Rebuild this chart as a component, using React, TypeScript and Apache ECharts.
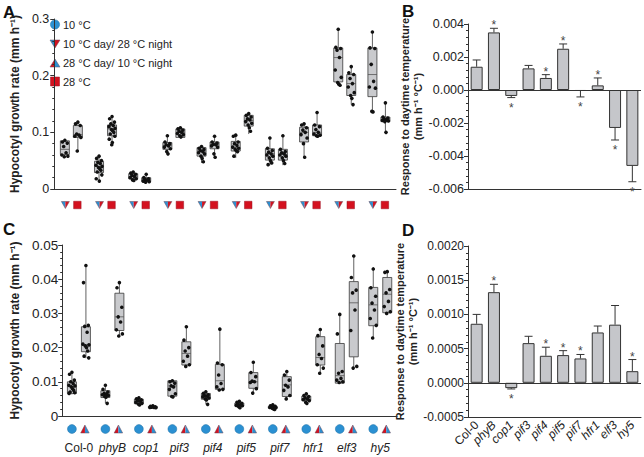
import React, { useEffect, useRef } from "react";
import * as echarts from "echarts";

const genotypes = ["Col-0", "phyB", "cop1", "pif3", "pif4", "pif5", "pif7", "hfr1", "elf3", "hy5"];

// Panel A – box statistics [min, q1, median, q3, max]
const boxA_dayCold = [
  [0.057, 0.061, 0.07, 0.085, 0.086],
  [0.014, 0.029, 0.04, 0.049, 0.058],
  [0.014, 0.018, 0.022, 0.027, 0.03],
  [0.061, 0.07, 0.077, 0.082, 0.094],
  [0.046, 0.058, 0.067, 0.073, 0.076],
  [0.055, 0.067, 0.073, 0.084, 0.095],
  [0.042, 0.051, 0.0625, 0.071, 0.091],
  [0.055, 0.083, 0.1, 0.109, 0.115],
  [0.183, 0.189, 0.232, 0.249, 0.282],
  [0.136, 0.163, 0.202, 0.249, 0.277],
];
const boxA_warm = [
  [0.067, 0.091, 0.096, 0.112, 0.119],
  [0.076, 0.094, 0.106, 0.113, 0.13],
  [0.011, 0.013, 0.017, 0.02, 0.027],
  [0.089, 0.091, 0.1, 0.106, 0.109],
  [0.055, 0.071, 0.079, 0.083, 0.094],
  [0.097, 0.111, 0.121, 0.13, 0.134],
  [0.042, 0.051, 0.061, 0.07, 0.095],
  [0.093, 0.094, 0.1, 0.113, 0.136],
  [0.149, 0.165, 0.186, 0.202, 0.217],
  [0.099, 0.119, 0.123, 0.127, 0.152],
];
const ptsA_dayCold = [
  [0.086, 0.083, 0.081, 0.075, 0.064, 0.06, 0.058, 0.057],
  [0.058, 0.054, 0.05, 0.047, 0.045, 0.042, 0.04, 0.038, 0.036, 0.033, 0.03, 0.025, 0.018, 0.014],
  [0.03, 0.028, 0.026, 0.024, 0.022, 0.02, 0.018, 0.016, 0.015],
  [0.094, 0.083, 0.08, 0.078, 0.076, 0.074, 0.071, 0.066, 0.062],
  [0.075, 0.072, 0.07, 0.068, 0.066, 0.064, 0.062, 0.058, 0.054, 0.048],
  [0.095, 0.093, 0.083, 0.08, 0.077, 0.074, 0.072, 0.07, 0.068, 0.066, 0.058],
  [0.09, 0.072, 0.068, 0.065, 0.062, 0.06, 0.058, 0.055, 0.05, 0.046, 0.043],
  [0.115, 0.113, 0.108, 0.104, 0.1, 0.096, 0.09, 0.08, 0.056],
  [0.282, 0.25, 0.248, 0.245, 0.232, 0.21, 0.197, 0.188, 0.185, 0.183],
  [0.277, 0.249, 0.248, 0.22, 0.19, 0.18, 0.178, 0.137, 0.136],
];
const ptsA_warm = [
  [0.118, 0.115, 0.112, 0.097, 0.095, 0.093, 0.091, 0.067],
  [0.128, 0.124, 0.118, 0.115, 0.112, 0.11, 0.107, 0.105, 0.103, 0.1, 0.097, 0.093, 0.088, 0.082, 0.078],
  [0.026, 0.02, 0.018, 0.017, 0.016, 0.014, 0.013, 0.012],
  [0.108, 0.106, 0.104, 0.102, 0.1, 0.098, 0.096, 0.094, 0.092],
  [0.093, 0.083, 0.081, 0.079, 0.078, 0.076, 0.074, 0.062, 0.056],
  [0.133, 0.13, 0.127, 0.124, 0.122, 0.119, 0.116, 0.113, 0.108, 0.102],
  [0.094, 0.07, 0.066, 0.064, 0.062, 0.06, 0.058, 0.055, 0.05, 0.045],
  [0.135, 0.113, 0.11, 0.105, 0.1, 0.097, 0.095, 0.094, 0.093],
  [0.216, 0.205, 0.202, 0.195, 0.186, 0.18, 0.17, 0.165, 0.16, 0.149],
  [0.152, 0.127, 0.125, 0.124, 0.122, 0.121, 0.12, 0.119, 0.1],
];

// Panel C – box statistics [min, q1, median, q3, max]
const boxC_cold = [
  [0.0063, 0.0066, 0.0086, 0.01, 0.013],
  [0.0037, 0.0054, 0.0064, 0.0074, 0.0091],
  [0.0032, 0.0036, 0.0043, 0.0049, 0.0053],
  [0.0056, 0.0058, 0.0088, 0.0103, 0.0103],
  [0.0034, 0.0049, 0.0059, 0.0066, 0.0071],
  [0.0024, 0.0029, 0.0033, 0.0038, 0.0043],
  [0.0019, 0.0023, 0.0025, 0.0028, 0.0033],
  [0.0037, 0.0045, 0.005, 0.0058, 0.0065],
  [0.0094, 0.0096, 0.0118, 0.0212, 0.0297],
  [0.0227, 0.0264, 0.0325, 0.0376, 0.043],
];
const boxC_warmDay = [
  [0.0169, 0.0188, 0.0208, 0.0261, 0.044],
  [0.0234, 0.025, 0.029, 0.0359, 0.039],
  [0.0023, 0.0024, 0.0026, 0.0028, 0.003],
  [0.0144, 0.0149, 0.0183, 0.0217, 0.0261],
  [0.0074, 0.0078, 0.0103, 0.0151, 0.0254],
  [0.0066, 0.0081, 0.01, 0.0127, 0.0157],
  [0.005, 0.0057, 0.0091, 0.0115, 0.013],
  [0.0125, 0.0149, 0.0171, 0.0232, 0.0253],
  [0.0139, 0.0173, 0.0331, 0.0393, 0.0468],
  [0.03, 0.0302, 0.0356, 0.0405, 0.0422],
];
const ptsC_cold = [
  [0.0128, 0.0122, 0.0105, 0.01, 0.0095, 0.009, 0.0088, 0.0085, 0.008, 0.0075, 0.007, 0.0068, 0.0066],
  [0.009, 0.0078, 0.007, 0.0066, 0.0064, 0.0062, 0.006, 0.0057, 0.0055, 0.0037],
  [0.0053, 0.005, 0.0047, 0.0045, 0.0043, 0.004, 0.0037, 0.0035, 0.0032],
  [0.0103, 0.01, 0.0096, 0.0088, 0.0085, 0.0078, 0.0065, 0.0057, 0.0056],
  [0.0071, 0.0066, 0.0062, 0.006, 0.0058, 0.0056, 0.0053, 0.005, 0.0047, 0.0034],
  [0.0043, 0.004, 0.0037, 0.0035, 0.0033, 0.0031, 0.003, 0.0027, 0.0024],
  [0.0033, 0.003, 0.0028, 0.0027, 0.0026, 0.0025, 0.0024, 0.0023, 0.0021, 0.0019],
  [0.0065, 0.006, 0.0057, 0.0053, 0.005, 0.0048, 0.0045, 0.004, 0.0037],
  [0.0297, 0.024, 0.013, 0.0125, 0.011, 0.0105, 0.01, 0.0098],
  [0.043, 0.0375, 0.035, 0.033, 0.031, 0.0285, 0.0265, 0.0228],
];
const ptsC_warmDay = [
  [0.044, 0.039, 0.0265, 0.0262, 0.0245, 0.021, 0.0208, 0.0205, 0.02, 0.019, 0.0175, 0.017],
  [0.039, 0.0375, 0.0318, 0.029, 0.0275, 0.0252, 0.024, 0.0234],
  [0.003, 0.0028, 0.0027, 0.0026, 0.0025, 0.0025, 0.0024],
  [0.0261, 0.0222, 0.02, 0.019, 0.0175, 0.016, 0.015, 0.0145],
  [0.0254, 0.0155, 0.015, 0.012, 0.0095, 0.0085, 0.0078, 0.0076],
  [0.0157, 0.0127, 0.0115, 0.0102, 0.01, 0.0098, 0.008, 0.0067],
  [0.013, 0.012, 0.0105, 0.009, 0.0085, 0.0075, 0.006, 0.005],
  [0.0253, 0.0235, 0.0205, 0.018, 0.0168, 0.015, 0.014, 0.0125],
  [0.0468, 0.0405, 0.0368, 0.036, 0.031, 0.025, 0.0145, 0.014],
  [0.0422, 0.042, 0.037, 0.036, 0.0335, 0.032, 0.0305, 0.03],
];

// Panel B – response to daytime temperature
const respB = [0.00141, 0.00349, -0.00036, 0.00131, 0.00073, 0.0025, -0.00006, 0.00028, -0.0023, -0.0046];
const errB = [0.00182, 0.00374, -0.00046, 0.00149, 0.00093, 0.00279, -0.00042, 0.00073, -0.00303, -0.00556];
const sigB = [0, 1, 1, 0, 1, 1, 1, 1, 1, 1];

// Panel D
const respD = [0.000863, 0.001325, -0.000078, 0.00058, 0.000395, 0.000405, 0.000356, 0.000736, 0.00085, 0.00017];
const errD = [0.001, 0.00144, -0.00009, 0.00068, 0.00052, 0.00047, 0.000414, 0.00083, 0.00113, 0.00034];
const sigD = [0, 1, 1, 0, 1, 1, 1, 0, 0, 1];

const legendLabels = ["10 °C", "10 °C day/ 28 °C night", "28 °C day/ 10 °C night", "28 °C"];

// ---- styling / layout ----
const FONT = "'Liberation Sans', Arial, Helvetica, sans-serif";
const BLUE = "#2b90d2";
const RED = "#d4111f";
const BOX_FILL = "#c9cacd";
const JITTER = [0, -2.4, 2.4, -1.2, 1.2, -3, 3, -0.6, 0.6, 1.8, -1.8, 2.8, -2.8, 0.3, -0.3];

function tri(x: number, y: number, w: number, h: number, down: boolean, left: string, right: string) {
  const base = down ? y - h / 2 : y + h / 2;
  const apex = down ? y + h / 2 : y - h / 2;
  return [
    { type: "polygon", shape: { points: [[x - w / 2, base], [x, base], [x, apex]] }, style: { fill: left } },
    { type: "polygon", shape: { points: [[x, base], [x + w / 2, base], [x, apex]] }, style: { fill: right } },
    {
      type: "polygon",
      shape: { points: [[x - w / 2, base], [x + w / 2, base], [x, apex]] },
      style: { fill: "none", stroke: "#6a4a5a", lineWidth: 0.5 },
    },
  ];
}
function sq(x: number, y: number, s: number) {
  return { type: "rect", shape: { x: x - s / 2, y: y - s / 2, width: s, height: s }, style: { fill: RED, stroke: "#9a1020", lineWidth: 0.5 } };
}
function circ(x: number, y: number, r: number) {
  return { type: "circle", shape: { cx: x, cy: y, r }, style: { fill: BLUE, stroke: "#1d6ea3", lineWidth: 0.5 } };
}

function boxRender(offset: number) {
  return (params: any, api: any) => {
    const c = api.value(0);
    const pMin = api.coord([c, api.value(1)]);
    const pQ1 = api.coord([c, api.value(2)]);
    const pMed = api.coord([c, api.value(3)]);
    const pQ3 = api.coord([c, api.value(4)]);
    const pMax = api.coord([c, api.value(5)]);
    const x = pMin[0] + offset;
    const w = 9;
    const ls = { stroke: "#3a3a3a", lineWidth: 0.8 };
    return {
      type: "group",
      children: [
        { type: "line", shape: { x1: x, y1: pMax[1], x2: x, y2: pQ3[1] }, style: ls },
        { type: "line", shape: { x1: x, y1: pQ1[1], x2: x, y2: pMin[1] }, style: ls },
        {
          type: "rect",
          shape: { x: x - w / 2, y: pQ3[1], width: w, height: Math.max(pQ1[1] - pQ3[1], 0.5) },
          style: { fill: BOX_FILL, stroke: "#3a3a3a", lineWidth: 0.8 },
        },
        { type: "line", shape: { x1: x - w / 2, y1: pMed[1], x2: x + w / 2, y2: pMed[1] }, style: { stroke: "#555", lineWidth: 0.8 } },
      ],
    };
  };
}
function dotRender(offset: number) {
  return (params: any, api: any) => {
    const p = api.coord([api.value(0), api.value(1)]);
    const k = api.value(2);
    return {
      type: "circle",
      shape: { cx: p[0] + offset + JITTER[k % JITTER.length], cy: p[1], r: 1.8 },
      style: { fill: "#111" },
    };
  };
}
function errRender(params: any, api: any) {
  const c = api.value(0);
  const v = api.value(1);
  const e = api.value(2);
  const s = api.value(3);
  const p0 = api.coord([c, v]);
  const p1 = api.coord([c, e]);
  const up = e > v;
  const ls = { stroke: "#333", lineWidth: 1 };
  const children: any[] = [
    { type: "line", shape: { x1: p0[0], y1: p0[1], x2: p1[0], y2: p1[1] }, style: ls },
    { type: "line", shape: { x1: p1[0] - 4, y1: p1[1], x2: p1[0] + 4, y2: p1[1] }, style: ls },
  ];
  if (s) {
    children.push({
      type: "text",
      style: {
        text: "*",
        x: p1[0],
        y: up ? p1[1] - 3 : p1[1] + 10,
        align: "center",
        verticalAlign: "middle",
        fontSize: 12,
        fontFamily: FONT,
        fill: "#444",
      },
    });
  }
  return { type: "group", children };
}

function boxData(stats: number[][]) {
  return stats.map((s, i) => [i, ...s]);
}
function dotData(pts: number[][]) {
  const out: number[][] = [];
  pts.forEach((arr, i) => arr.forEach((v, k) => out.push([i, v, k])));
  return out;
}

const axisLineStyle = { lineStyle: { color: "#333", width: 1 } };

export default function App() {
  const ref = useRef<HTMLDivElement>(null);
  useEffect(() => {
    if (!ref.current) return;
    const chart = echarts.init(ref.current, undefined, { renderer: "svg" });

    const geneLabel = (v: string) => (v === "Col-0" ? `{n|${v}}` : `{i|${v}}`);
    const rich = {
      n: { fontSize: 12, fontFamily: FONT, color: "#222" },
      i: { fontSize: 12, fontFamily: FONT, fontStyle: "italic", color: "#222" },
    };

    const yName = (name: string, gap: number, size: number) => ({
      name,
      nameLocation: "middle",
      nameGap: gap,
      nameRotate: 90,
      nameTextStyle: { fontSize: size, fontWeight: "bold", fontFamily: FONT, color: "#222", lineHeight: 13 },
    });

    // legend: local frame origin anchored at page (40, 10) via an invisible frame rect
    const OX = 40;
    const OY = 10;
    const lx = 55 - OX;
    const ly = [24.5 - OY, 44 - OY, 63 - OY, 81.5 - OY];
    const legendChildren: any[] = [
      { type: "rect", shape: { x: 0, y: 0, width: 160, height: 85 }, style: { fill: "rgba(0,0,0,0)" }, silent: true },
    ];
    legendChildren.push(circ(lx, ly[0], 4.6));
    tri(lx, ly[1], 10, 8, true, BLUE, RED).forEach((g) => legendChildren.push(g));
    tri(lx, ly[2], 10, 8, false, RED, BLUE).forEach((g) => legendChildren.push(g));
    legendChildren.push(sq(lx, ly[3], 9));
    legendLabels.forEach((t, i) =>
      legendChildren.push({
        type: "text",
        style: { text: t, x: 63 - OX, y: ly[i], verticalAlign: "middle", fontSize: 11, fontFamily: FONT, fill: "#222" },
      })
    );
    const legendGroup = { type: "group", left: OX, top: OY, children: legendChildren };

    const letters = [
      ["A", 3, 4],
      ["B", 402, 3],
      ["C", 3, 221],
      ["D", 402, 222],
    ].map(([t, x, y]) => ({
      type: "text",
      left: x as number,
      top: y as number,
      style: { text: t as string, fontSize: 17, fontWeight: "bold", fontFamily: FONT, fill: "#111" },
    }));

    const option: any = {
      animation: false,
      backgroundColor: "#fff",
      textStyle: { fontFamily: FONT },
      grid: [
        { left: 41, top: 19, width: 355, height: 170 },
        { left: 468, top: 24, width: 173, height: 165 },
        { left: 42, top: 245, width: 355, height: 171 },
        { left: 468, top: 246, width: 173, height: 171 },
      ],
      xAxis: [
        {
          gridIndex: 0,
          type: "category",
          data: genotypes,
          axisLine: axisLineStyle,
          axisTick: { alignWithLabel: true, length: 4, lineStyle: { color: "#333" } },
          axisLabel: { show: false },
        },
        {
          gridIndex: 1,
          type: "category",
          data: genotypes,
          axisLine: { onZero: false, ...axisLineStyle },
          axisTick: { alignWithLabel: true, length: 4, lineStyle: { color: "#333" } },
          axisLabel: { show: false },
        },
        {
          gridIndex: 2,
          type: "category",
          data: genotypes,
          axisLine: axisLineStyle,
          axisTick: { alignWithLabel: true, length: 4, lineStyle: { color: "#333" } },
          axisLabel: { margin: 26, formatter: geneLabel, rich, interval: 0 },
        },
        {
          gridIndex: 3,
          type: "category",
          data: genotypes,
          axisLine: { onZero: false, ...axisLineStyle },
          axisTick: { alignWithLabel: true, length: 4, lineStyle: { color: "#333" } },
          axisLabel: { rotate: 45, margin: 6, formatter: geneLabel, rich, interval: 0 },
        },
      ],
      yAxis: [
        {
          gridIndex: 0,
          type: "value",
          min: 0,
          max: 0.3,
          interval: 0.1,
          ...yName("Hypocotyl growth rate (mm h⁻¹)", 27, 12),
          axisLine: { show: true, ...axisLineStyle },
          axisTick: { show: true, length: 4, lineStyle: { color: "#333" } },
          minorTick: { show: true, splitNumber: 5, length: 2, lineStyle: { color: "#333" } },
          splitLine: { show: false },
          axisLabel: { fontSize: 12.5, color: "#222", margin: 5, formatter: (v: number) => (v === 0 ? "0" : v.toFixed(1)) },
        },
        {
          gridIndex: 1,
          type: "value",
          min: -0.006,
          max: 0.004,
          interval: 0.002,
          ...yName("Response to daytime temperature\n(mm h⁻¹ °C⁻¹)", 36, 11),
          axisLine: { show: true, ...axisLineStyle },
          axisTick: { show: true, length: 4, lineStyle: { color: "#333" } },
          minorTick: { show: true, splitNumber: 5, length: 2, lineStyle: { color: "#333" } },
          splitLine: { show: false },
          axisLabel: { fontSize: 12.5, color: "#222", margin: 4, formatter: (v: number) => v.toFixed(3) },
        },
        {
          gridIndex: 2,
          type: "value",
          min: 0,
          max: 0.05,
          interval: 0.01,
          ...yName("Hypocotyl growth rate (mm h⁻¹)", 27, 12),
          axisLine: { show: true, ...axisLineStyle },
          axisTick: { show: true, length: 4, lineStyle: { color: "#333" } },
          minorTick: { show: true, splitNumber: 5, length: 2, lineStyle: { color: "#333" } },
          splitLine: { show: false },
          axisLabel: { fontSize: 13.5, color: "#222", margin: 4, formatter: (v: number) => (v === 0 ? "0" : v.toFixed(2)) },
        },
        {
          gridIndex: 3,
          type: "value",
          min: -0.0005,
          max: 0.002,
          interval: 0.0005,
          ...yName("Response to daytime temperature\n(mm h⁻¹ °C⁻¹)", 36, 11),
          axisLine: { show: true, ...axisLineStyle },
          axisTick: { show: true, length: 4, lineStyle: { color: "#333" } },
          minorTick: { show: true, splitNumber: 5, length: 2, lineStyle: { color: "#333" } },
          splitLine: { show: false },
          axisLabel: { fontSize: 12, color: "#222", margin: 4, formatter: (v: number) => v.toFixed(4) },
        },
      ],
      graphic: [legendGroup, ...letters],
      series: [
        // Panel A
        { type: "custom", xAxisIndex: 0, yAxisIndex: 0, renderItem: boxRender(-6.5), data: boxData(boxA_dayCold), encode: { x: 0, y: [1, 2, 3, 4, 5] } },
        { type: "custom", xAxisIndex: 0, yAxisIndex: 0, renderItem: boxRender(6.5), data: boxData(boxA_warm), encode: { x: 0, y: [1, 2, 3, 4, 5] } },
        { type: "custom", xAxisIndex: 0, yAxisIndex: 0, renderItem: dotRender(-6.5), data: dotData(ptsA_dayCold), encode: { x: 0, y: 1 }, z: 3 },
        { type: "custom", xAxisIndex: 0, yAxisIndex: 0, renderItem: dotRender(6.5), data: dotData(ptsA_warm), encode: { x: 0, y: 1 }, z: 3 },
        {
          type: "custom",
          xAxisIndex: 0,
          yAxisIndex: 0,
          clip: false,
          data: genotypes.map((_, i) => [i, 0]),
          encode: { x: 0, y: 1 },
          renderItem: (params: any, api: any) => {
            const p = api.coord([api.value(0), 0]);
            const y = p[1] + 16;
            return { type: "group", children: [...tri(p[0] - 6, y, 8, 7, true, BLUE, RED), sq(p[0] + 6, y, 7.5)] };
          },
        },
        // Panel C
        { type: "custom", xAxisIndex: 2, yAxisIndex: 2, renderItem: boxRender(-7), data: boxData(boxC_cold), encode: { x: 0, y: [1, 2, 3, 4, 5] } },
        { type: "custom", xAxisIndex: 2, yAxisIndex: 2, renderItem: boxRender(7), data: boxData(boxC_warmDay), encode: { x: 0, y: [1, 2, 3, 4, 5] } },
        { type: "custom", xAxisIndex: 2, yAxisIndex: 2, renderItem: dotRender(-7), data: dotData(ptsC_cold), encode: { x: 0, y: 1 }, z: 3 },
        { type: "custom", xAxisIndex: 2, yAxisIndex: 2, renderItem: dotRender(7), data: dotData(ptsC_warmDay), encode: { x: 0, y: 1 }, z: 3 },
        {
          type: "custom",
          xAxisIndex: 2,
          yAxisIndex: 2,
          clip: false,
          data: genotypes.map((_, i) => [i, 0]),
          encode: { x: 0, y: 1 },
          renderItem: (params: any, api: any) => {
            const p = api.coord([api.value(0), 0]);
            const y = p[1] + 13;
            return { type: "group", children: [circ(p[0] - 7, y, 4.4), ...tri(p[0] + 6, y, 8.5, 8, false, RED, BLUE)] };
          },
        },
        // Panel B
        {
          type: "bar",
          xAxisIndex: 1,
          yAxisIndex: 1,
          data: respB,
          barWidth: 12,
          itemStyle: { color: "#c5c6ca", borderColor: "#333", borderWidth: 1 },
          markLine: {
            silent: true,
            symbol: "none",
            label: { show: false },
            lineStyle: { color: "#333", width: 1, type: "solid" },
            data: [{ yAxis: 0 }],
          },
        },
        {
          type: "custom",
          xAxisIndex: 1,
          yAxisIndex: 1,
          clip: false,
          renderItem: errRender,
          data: respB.map((v, i) => [i, v, errB[i], sigB[i]]),
          encode: { x: 0, y: [1, 2] },
          z: 3,
        },
        // Panel D
        {
          type: "bar",
          xAxisIndex: 3,
          yAxisIndex: 3,
          data: respD,
          barWidth: 12,
          itemStyle: { color: "#c5c6ca", borderColor: "#333", borderWidth: 1 },
          markLine: {
            silent: true,
            symbol: "none",
            label: { show: false },
            lineStyle: { color: "#333", width: 1, type: "solid" },
            data: [{ yAxis: 0 }],
          },
        },
        {
          type: "custom",
          xAxisIndex: 3,
          yAxisIndex: 3,
          clip: false,
          renderItem: errRender,
          data: respD.map((v, i) => [i, v, errD[i], sigD[i]]),
          encode: { x: 0, y: [1, 2] },
          z: 3,
        },
      ],
    };
    chart.setOption(option);
    return () => chart.dispose();
  }, []);

  return <div ref={ref} style={{ position: "fixed", left: 0, top: 0, width: 644, height: 457, background: "#fff" }} />;
}
